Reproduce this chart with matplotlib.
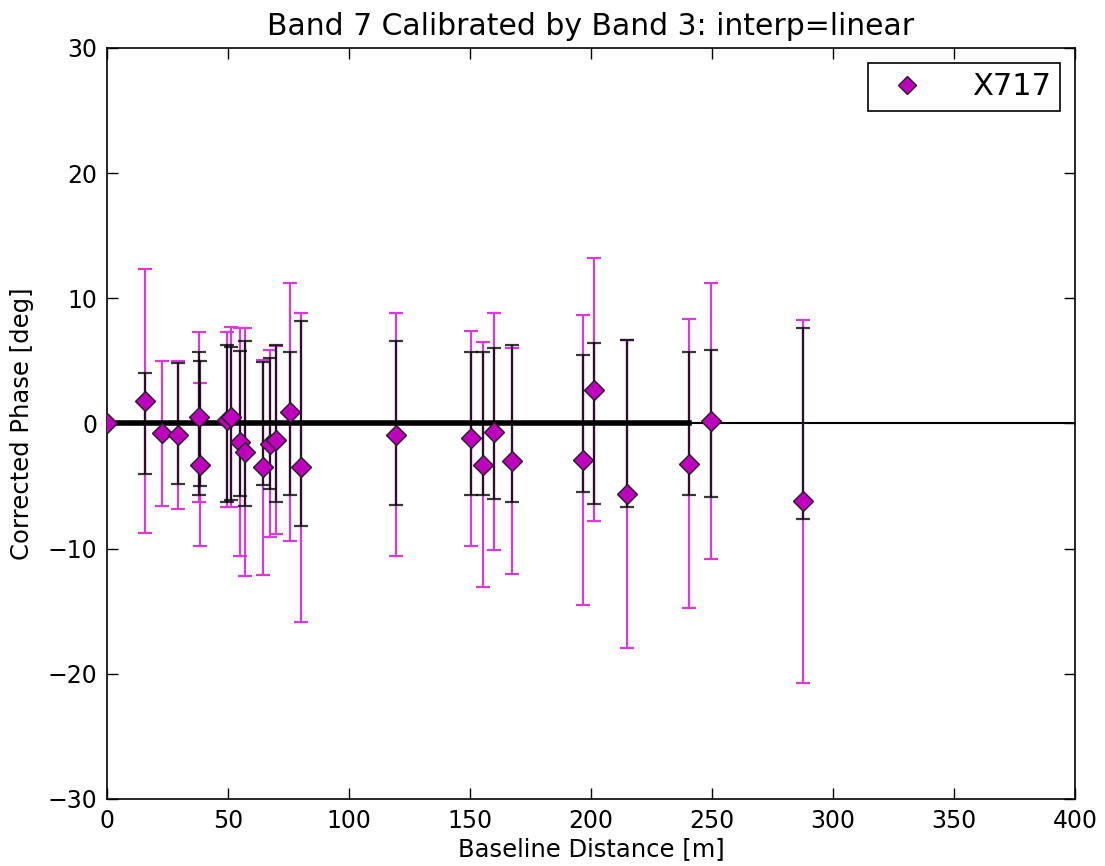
import numpy as np
import matplotlib
matplotlib.use('Agg')
import matplotlib.pyplot as plt

# baseline distance [m] for each antenna
baseline = np.array([0, 15.7, 22.6, 29.2, 38.0, 38.6, 49.8, 51.2, 55.0, 57.0, 64.3, 67.4, 69.8,
                     75.6, 80.0, 119.3, 150.3, 155.5, 160.0, 167.2, 196.6, 201.2, 215.0,
                     240.6, 249.6, 287.7])
# corrected phase [deg] and its error
phase = np.array([0, 1.8, -0.8, -0.9, 0.5, -3.3, 0.3, 0.5, -1.5, -2.3, -3.5, -1.6, -1.3,
                  0.9, -3.5, -0.9, -1.2, -3.3, -0.65, -3.0, -2.9, 2.7, -5.65,
                  -3.2, 0.2, -6.2])
phase_err = np.array([0, 10.55, 5.8, 5.9, 6.8, 6.5, 7.0, 7.2, 9.1, 9.9, 8.6, 7.5, 7.5,
                      10.3, 12.35, 9.7, 8.6, 9.8, 9.45, 9.0, 11.6, 10.5, 12.3,
                      11.55, 11.0, 14.5])
# reference (zero-centred) error bars
ref_err = np.array([0, 4.0, 0, 4.85, 5.7, 5.0, 6.3, 6.1, 5.8, 6.6, 4.95, 5.2, 6.25,
                    5.7, 8.2, 6.55, 5.75, 5.75, 6.0, 6.25, 5.5, 6.4, 6.7,
                    5.75, 5.9, 7.6])
ref_line_max = 241  # zero line drawn over the inner baselines

label = 'X717'

fig = plt.figure(figsize=(11.05, 8.66), dpi=100)
ax = fig.add_axes([0.0968, 0.0774, 0.8761, 0.8672])

ax.axhline(0, color='k', lw=1.5, zorder=1)

# magenta error bars
ax.errorbar(baseline, phase, yerr=phase_err, fmt='none', ecolor='#d83cd8',
            elinewidth=1.6, capsize=5, capthick=1.6, zorder=2)
# black zero-centred error bars
zeros = np.zeros_like(baseline)
ax.errorbar(baseline, zeros, yerr=ref_err, fmt='none', ecolor='black', alpha=0.78,
            elinewidth=1.6, capsize=5, capthick=1.6, zorder=3)
inner = baseline <= ref_line_max
ax.plot(baseline[inner], zeros[inner], 'k-', lw=4, zorder=3)

ax.plot(baseline, phase, 'D', color='#bf00bf', markeredgecolor='#222222',
        markeredgewidth=1.0, markersize=10.5, label=label, zorder=5)

ax.set_xlim(0, 400)
ax.set_ylim(-30, 30)
ax.set_xticks(np.arange(0, 401, 50))
ax.set_yticks(np.arange(-30, 31, 10))
ax.tick_params(direction='in', top=True, right=True, length=8, width=1,
               labelsize=17, pad=7)
for s in ax.spines.values():
    s.set_linewidth(1.2)

ax.set_xlabel('Baseline Distance [m]', fontsize=17.5, labelpad=3)
ax.set_ylabel('Corrected Phase [deg]', fontsize=17.5, labelpad=10)
ax.set_title('Band 7 Calibrated by Band 3: interp=linear', fontsize=21.5, pad=9)

leg = ax.legend(loc='upper right', numpoints=1, fontsize=22, markerscale=0.85,
                fancybox=False, edgecolor='black', framealpha=1,
                borderaxespad=0.5, handletextpad=1.1, borderpad=0.3)
leg.get_frame().set_linewidth(1.2)

fig.savefig('out.png', dpi=100)
